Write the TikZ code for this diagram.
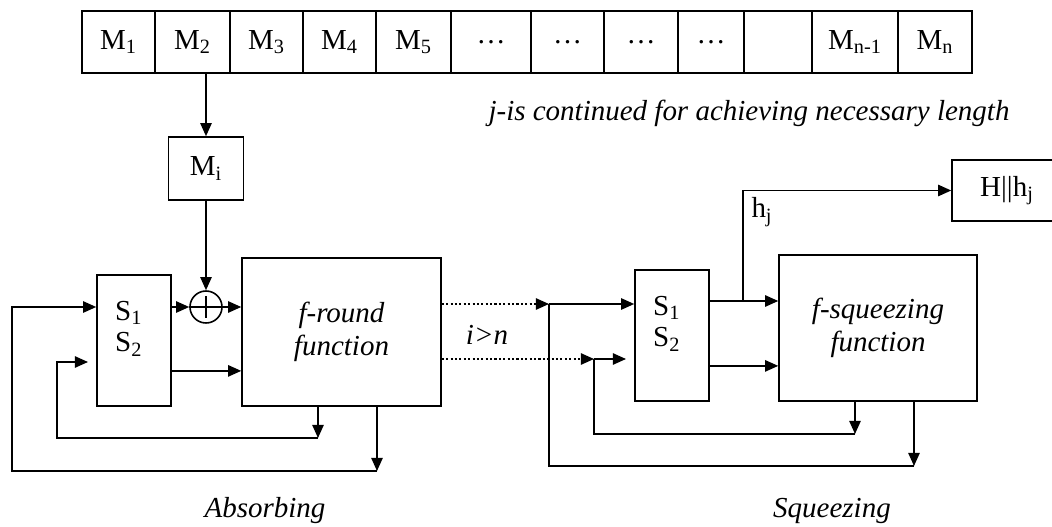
\documentclass[tikz,border=0pt]{standalone}
\usepackage{fontspec}
\setmainfont{Liberation Serif}
\usetikzlibrary{arrows.meta}

\begin{document}
\begin{tikzpicture}[x=0.02cm,y=-0.02cm,>={Triangle[length=7.5pt,width=6.5pt]},line width=0.9pt,
  cell/.style={draw,inner sep=0pt,minimum height=1.24cm,font=\fontsize{16.5}{19}\selectfont},
  blk/.style={draw,inner sep=0pt,align=center,font=\fontsize{16.5}{19}\selectfont\itshape},
  reg/.style={draw,inner sep=0pt,minimum width=1.48cm,minimum height=2.62cm},
  lbl/.style={font=\fontsize{16.5}{18}\selectfont},
  ilbl/.style={font=\fontsize{16.5}{19}\selectfont\itshape},
  dotline/.style={dash pattern=on 1.2pt off 1.3pt}]
\useasboundingbox (0,0) rectangle (1052,527);
\clip (0,0) rectangle (1052,527);
% message blocks
\foreach \a/\b/\t [count=\i] in {82/155/M\textsubscript{1},155/230/M\textsubscript{2},230/303/M\textsubscript{3},303/376/M\textsubscript{4},376/451/M\textsubscript{5},451/531/\dots,531/604/\dots,604/678/\dots,678/744/\dots,744/812/{},812/898/M\textsubscript{n-1},898/972/M\textsubscript{n}}
  \node[cell,minimum width={(\b-\a)*0.02cm}] (m\i) at ({(\a+\b)/2},42) {\t};
\node[ilbl] (note) at (749,113) {j-is continued for achieving necessary length};
\node[cell,minimum width=1.5cm,minimum height=1.26cm] (mi) at (206,168.5) {M\textsubscript{i}};
\draw[->] (mi.north |- m2.south) -- (mi.north);
% absorbing
\node[draw,circle,minimum size=0.64cm,inner sep=0pt] (xor) at (206,307) {};
\draw[shorten <=3.5pt,shorten >=3.5pt] (xor.west) -- (xor.east) (xor.north) -- (xor.south);
\draw[->] (mi) -- (xor);
\node[reg,label={[lbl,align=center,anchor=north,yshift=-11.5pt,xshift=-3pt]north:{S\textsubscript{1}\\S\textsubscript{2}}}] (sL) at (134,340.5) {};
\node[blk,minimum width=3.98cm,minimum height=2.96cm] (fR) at (341.5,332) {f-round\\function};
\draw[->] (sL.east |- xor) -- (xor.west);
\draw[->] (xor.east) -- (xor -| fR.west);
\coordinate (sLo) at ([yshift=-17.3pt]sL.east);
\draw[->] (sLo) -- (sLo -| fR.west);
\coordinate (ai) at (318,438);
\coordinate (ao) at (377,471);
\draw[->] (ai |- fR.south) -- (ai);
\draw[->] (ao |- fR.south) -- (ao);
\draw[->] (ai) -- ++(-261,0) |- (88,362);
\draw[->] (ao) -- ++(-365,0) |- (sL.west |- xor);
\node[ilbl] (absorb) at (265,511) {Absorbing};
% switch to squeezing
\coordinate (jo) at (549,304);
\coordinate (ji) at (594,359);
\draw[dotline,->] (fR.east |- jo) -- (jo);
\draw[dotline,->] (fR.east |- ji) -- (ji);
\node[ilbl] (cond) at (487,335) {i>n};
% squeezing
\node[reg,label={[lbl,align=center,anchor=north,yshift=-11.5pt,xshift=-3pt]north:{S\textsubscript{1}\\S\textsubscript{2}}}] (sR) at (672,335.5) {};
\node[blk,minimum width=3.96cm,minimum height=2.92cm] (fS) at (878,328) {f-squeezing\\function};
\node[cell,minimum width=2.2cm,minimum height=1.22cm] (hb) at (1007,190.5) {H||h\textsubscript{j}};
\coordinate (br) at (743,301);
\draw[->] (jo) -- (sR.west |- jo);
\draw[->] (sR.east |- br) -- (fS.west |- br);
\draw[->] (br) |- (hb.west);
\node[lbl] (hj) at (762,212) {h\textsubscript{j}};
\coordinate (sRo) at ([yshift=-17.3pt]sR.east);
\draw[->] (sRo) -- (sRo -| fS.west);
\coordinate (bi) at (855,434);
\coordinate (bo) at (914,466);
\draw[->] (bi |- fS.south) -- (bi);
\draw[->] (bo |- fS.south) -- (bo);
\draw (bi) -| (ji);
\draw[->] (ji) -- ++(32,0);
\draw (bo) -| (jo);
\node[ilbl] (squeeze) at (832,511) {Squeezing};
\end{tikzpicture}
\end{document}
